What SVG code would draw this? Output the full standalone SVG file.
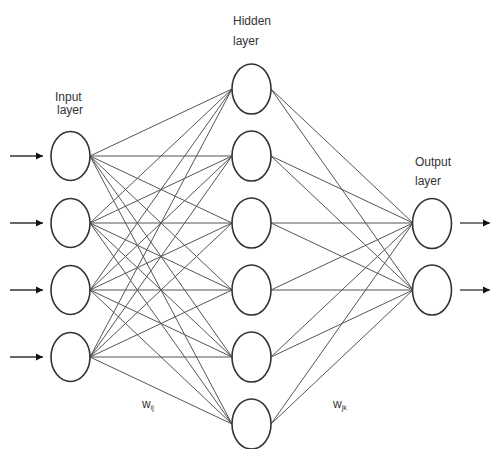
<svg xmlns="http://www.w3.org/2000/svg" width="492" height="449" viewBox="0 0 492 449">
<defs>
<marker id="ah" markerWidth="8" markerHeight="8" refX="7" refY="4" orient="auto" markerUnits="userSpaceOnUse">
<path d="M0,0.5 L7,4 L0,7.5 Z" fill="#111"/>
</marker>
<style>
.n{fill:#fff;stroke:#333;stroke-width:1.6}
.c{stroke:#555;stroke-width:1}
.a{stroke:#333;stroke-width:1.3;marker-end:url(#ah)}
.t{font-family:"Liberation Sans",Arial,sans-serif;font-size:12px;fill:#333}
.s{font-family:"Liberation Sans",Arial,sans-serif;font-size:7px;fill:#333}
</style>
</defs>
<rect width="492" height="449" fill="#fff"/>
<g id="connectors">
<g class="c">
<line x1="90" y1="156" x2="232" y2="89"/><line x1="90" y1="156" x2="232" y2="156"/><line x1="90" y1="156" x2="232" y2="223"/><line x1="90" y1="156" x2="232" y2="290"/><line x1="90" y1="156" x2="232" y2="357"/><line x1="90" y1="156" x2="232" y2="424"/>
<line x1="90" y1="223" x2="232" y2="89"/><line x1="90" y1="223" x2="232" y2="156"/><line x1="90" y1="223" x2="232" y2="223"/><line x1="90" y1="223" x2="232" y2="290"/><line x1="90" y1="223" x2="232" y2="357"/><line x1="90" y1="223" x2="232" y2="424"/>
<line x1="90" y1="290" x2="232" y2="89"/><line x1="90" y1="290" x2="232" y2="156"/><line x1="90" y1="290" x2="232" y2="223"/><line x1="90" y1="290" x2="232" y2="290"/><line x1="90" y1="290" x2="232" y2="357"/><line x1="90" y1="290" x2="232" y2="424"/>
<line x1="90" y1="357" x2="232" y2="89"/><line x1="90" y1="357" x2="232" y2="156"/><line x1="90" y1="357" x2="232" y2="223"/><line x1="90" y1="357" x2="232" y2="290"/><line x1="90" y1="357" x2="232" y2="357"/><line x1="90" y1="357" x2="232" y2="424"/>
<line x1="271" y1="89" x2="413" y2="223"/><line x1="271" y1="89" x2="413" y2="290"/>
<line x1="271" y1="156" x2="413" y2="223"/><line x1="271" y1="156" x2="413" y2="290"/>
<line x1="271" y1="223" x2="413" y2="223"/><line x1="271" y1="223" x2="413" y2="290"/>
<line x1="271" y1="290" x2="413" y2="223"/><line x1="271" y1="290" x2="413" y2="290"/>
<line x1="271" y1="357" x2="413" y2="223"/><line x1="271" y1="357" x2="413" y2="290"/>
<line x1="271" y1="424" x2="413" y2="223"/><line x1="271" y1="424" x2="413" y2="290"/>
</g>
<line class="a" x1="10" y1="156" x2="43" y2="156"/>
<line class="a" x1="10" y1="223" x2="43" y2="223"/>
<line class="a" x1="10" y1="290" x2="43" y2="290"/>
<line class="a" x1="10" y1="357" x2="43" y2="357"/>
<line class="a" x1="460" y1="223" x2="490" y2="223"/>
<line class="a" x1="460" y1="290" x2="490" y2="290"/>
</g>
<g id="input-layer">
<ellipse id="i1" class="n" cx="70.5" cy="156" rx="19.5" ry="24.5"/>
<ellipse id="i2" class="n" cx="70.5" cy="223" rx="19.5" ry="24.5"/>
<ellipse id="i3" class="n" cx="70.5" cy="290" rx="19.5" ry="24.5"/>
<ellipse id="i4" class="n" cx="70.5" cy="357" rx="19.5" ry="24.5"/>
<text class="t" x="55" y="101">Input</text>
<text class="t" x="57" y="114">layer</text>
</g>
<g id="hidden-layer">
<ellipse id="h1" class="n" cx="251.5" cy="89" rx="19.5" ry="25"/>
<ellipse id="h2" class="n" cx="251.5" cy="156" rx="19.5" ry="25"/>
<ellipse id="h3" class="n" cx="251.5" cy="223" rx="19.5" ry="25"/>
<ellipse id="h4" class="n" cx="251.5" cy="290" rx="19.5" ry="25"/>
<ellipse id="h5" class="n" cx="251.5" cy="357" rx="19.5" ry="25"/>
<ellipse id="h6" class="n" cx="251.5" cy="424" rx="19.5" ry="25"/>
<text class="t" x="233" y="25">Hidden</text>
<text class="t" x="233" y="45">layer</text>
</g>
<g id="output-layer">
<ellipse id="o1" class="n" cx="432" cy="223.5" rx="19.5" ry="25"/>
<ellipse id="o2" class="n" cx="432" cy="290" rx="19.5" ry="25"/>
<text class="t" x="415" y="166">Output</text>
<text class="t" x="415" y="185">layer</text>
</g>
<g id="weights">
<text class="t" x="142" y="408">w<tspan class="s" dy="2">ij</tspan></text>
<text class="t" x="333" y="408">w<tspan class="s" dy="2">jk</tspan></text>
</g>
</svg>
